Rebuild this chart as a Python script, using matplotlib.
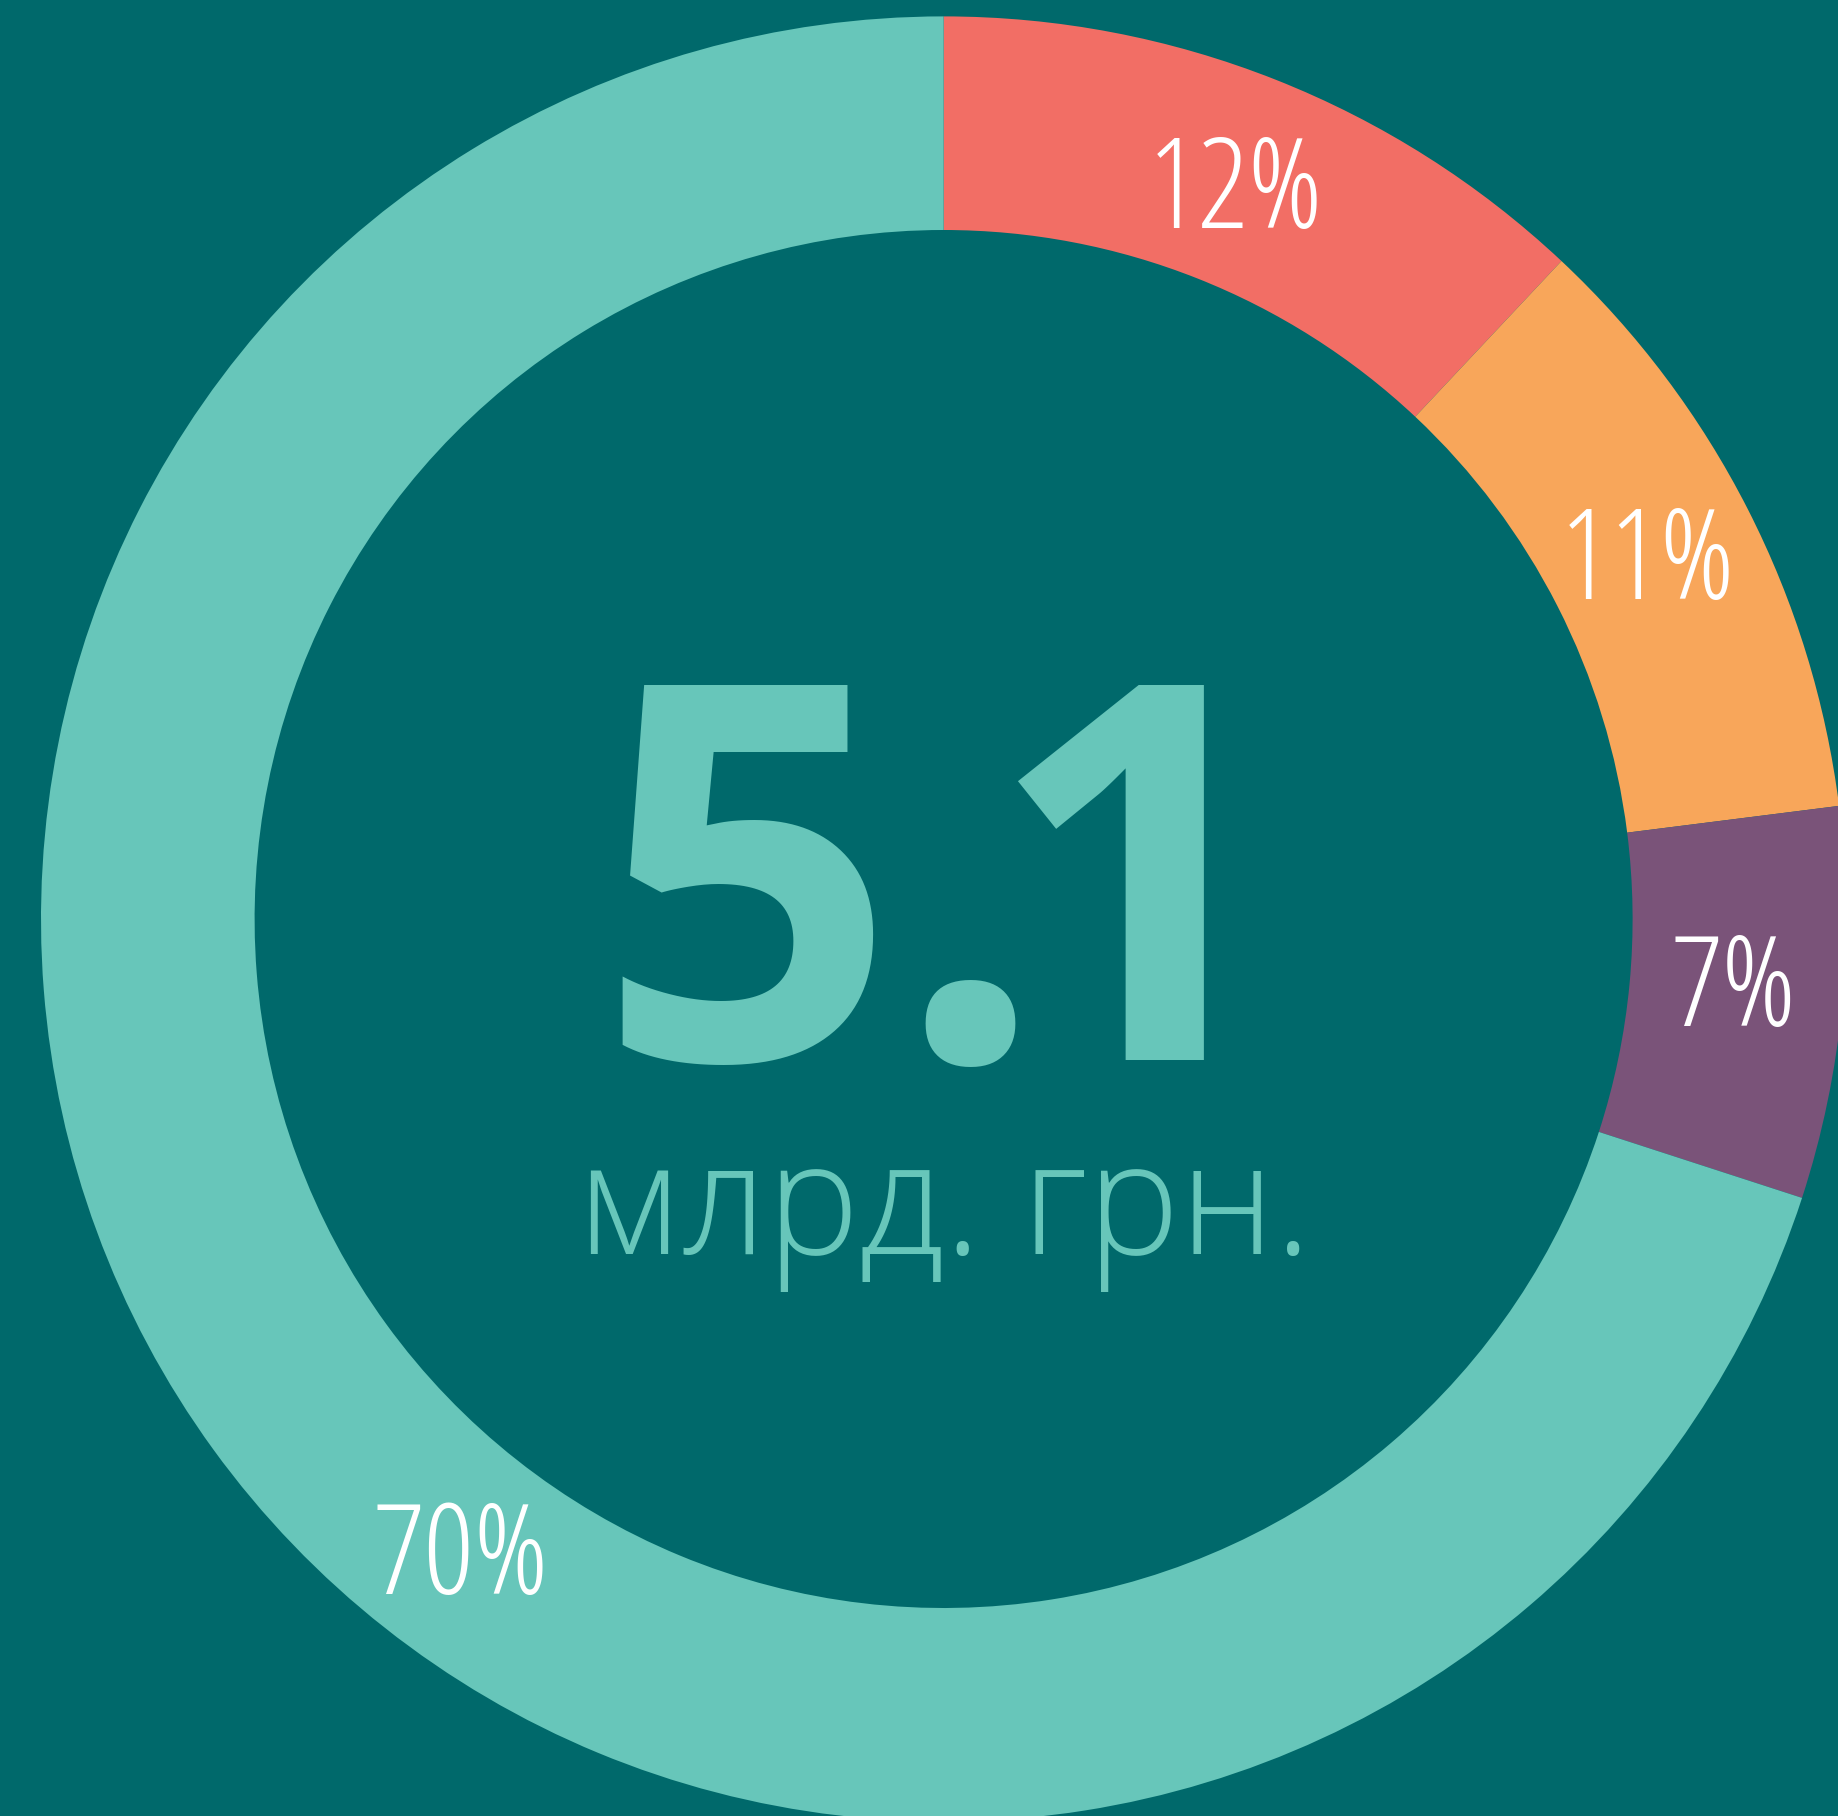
import matplotlib
matplotlib.use("Agg")
import numpy as np
import matplotlib.pyplot as plt
from matplotlib import font_manager
from matplotlib.font_manager import FontProperties

# share of the total, clockwise from 12 o'clock
shares = [12, 11, 7, 70]
share_labels = ["12%", "11%", "7%", "70%"]
colors = ["#F26E65", "#F8A65A", "#7A5379", "#67C6BA"]
total_int = "5."
total_dec = "1"
total_unit = "млрд. грн."

bg = "#00696B"
W, H = 1838, 1816
cx, cy = 943.6, H - 919
r_out, r_in = 902.6, 689.0
label_shift = [0, 0.5, 1, 16.5]  # degrees, 70% label sits off-centre

fig = plt.figure(figsize=(W / 100, H / 100), dpi=100, facecolor=bg)
ax = fig.add_axes([0, 0, 1, 1])
ax.set_facecolor(bg)

wedges, _ = ax.pie(shares, colors=colors, startangle=90, counterclock=False,
                   radius=r_out, center=(cx, cy),
                   wedgeprops=dict(width=r_out - r_in, linewidth=0))

# condensed light Open Sans for the percentages, if it is there
cond = [f.fname for f in font_manager.fontManager.ttflist
        if f.fname.endswith("OpenSans-CondLight.ttf")]
if cond:
    lab_font = FontProperties(fname=cond[0], size=91)
else:
    lab_font = FontProperties(family=["Open Sans", "DejaVu Sans"], weight="light", size=91)

r_lab = 793
half_cap = 46  # put the middle of the digits on the ring, not the text box
for w, txt, sh in zip(wedges, share_labels, label_shift):
    ang = np.deg2rad((w.theta1 + w.theta2) / 2 + sh)
    ax.text(cx + r_lab * np.cos(ang), cy + r_lab * np.sin(ang) - half_cap, txt,
            ha="center", va="baseline", color="white", fontproperties=lab_font)

big = dict(va="baseline", ha="left", color="#67C6BA", fontsize=378,
           family=["Open Sans", "DejaVu Sans"], fontweight="bold")
ax.text(596, H - 1060, total_int, **big)
ax.text(986, H - 1060, total_dec, **big)
ax.text(944, H - 1213, total_unit, ha="center", va="center", color="#67C6BA",
        fontsize=112, family=["Open Sans", "DejaVu Sans"], fontweight="light")

ax.set_xlim(0, W)
ax.set_ylim(0, H)
ax.axis("off")
fig.savefig("out.png", dpi=100, facecolor=bg)
